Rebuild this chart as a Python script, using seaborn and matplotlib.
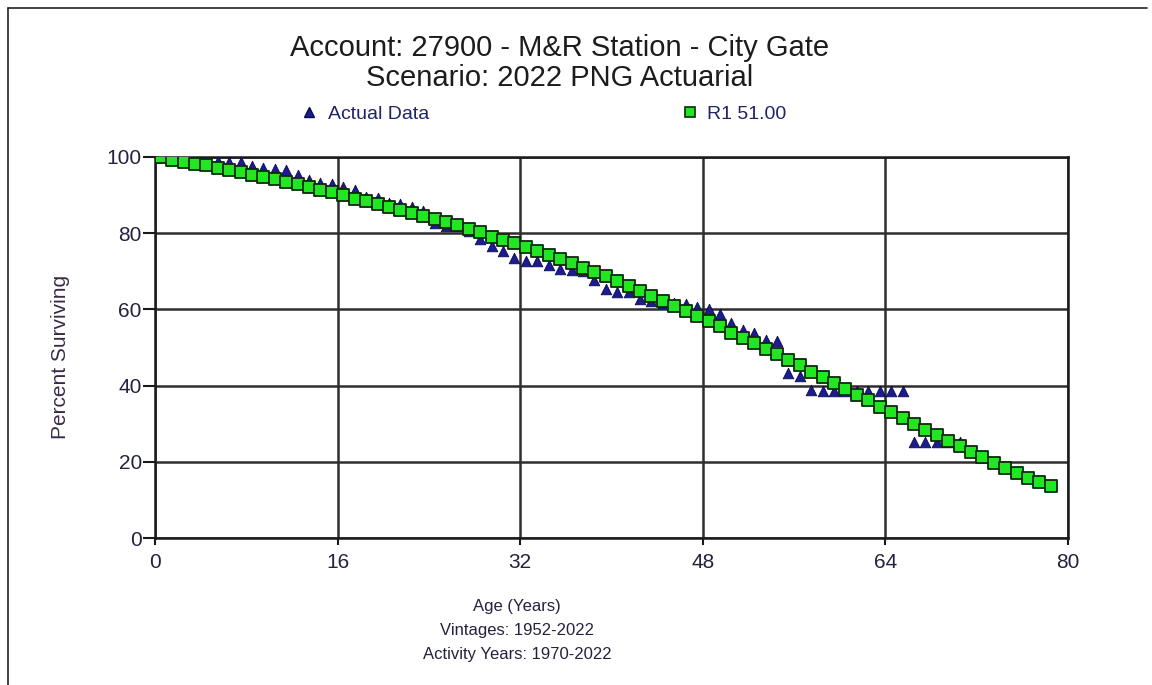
import matplotlib
matplotlib.use("Agg")
import matplotlib.pyplot as plt
import seaborn as sns
import pandas as pd
from matplotlib.lines import Line2D

# ---------------- data ----------------
ages_fit = [0, 0.5, 1.5, 2.5, 3.5, 4.5, 5.5, 6.5, 7.5, 8.5, 9.5, 10.5, 11.5, 12.5, 13.5,
            14.5, 15.5, 16.5, 17.5, 18.5, 19.5, 20.5, 21.5, 22.5, 23.5, 24.5, 25.5, 26.5,
            27.5, 28.5, 29.5, 30.5, 31.5, 32.5, 33.5, 34.5, 35.5, 36.5, 37.5, 38.5, 39.5,
            40.5, 41.5, 42.5, 43.5, 44.5, 45.5, 46.5, 47.5, 48.5, 49.5, 50.5, 51.5, 52.5,
            53.5, 54.5, 55.5, 56.5, 57.5, 58.5, 59.5, 60.5, 61.5, 62.5, 63.5, 64.5, 65.5,
            66.5, 67.5, 68.5, 69.5, 70.5, 71.5, 72.5, 73.5, 74.5, 75.5, 76.5, 77.5, 78.5]
r1_fit = [100.0, 100.0, 99.2, 98.8, 98.2, 97.9, 97.1, 96.6, 96.0, 95.4, 94.8, 94.1, 93.5,
          92.8, 92.1, 91.4, 90.7, 90.0, 89.1, 88.5, 87.7, 87.0, 86.1, 85.4, 84.5, 83.7,
          82.9, 82.1, 81.1, 80.2, 79.1, 78.2, 77.4, 76.3, 75.2, 74.3, 73.1, 72.2, 70.9,
          69.9, 68.7, 67.4, 66.1, 64.8, 63.5, 62.3, 60.9, 59.5, 58.2, 56.9, 55.6, 53.9,
          52.5, 51.1, 49.6, 48.4, 46.7, 45.3, 43.7, 42.2, 40.7, 39.2, 37.5, 36.1, 34.5,
          33.0, 31.4, 29.9, 28.4, 27.0, 25.5, 24.1, 22.6, 21.3, 19.8, 18.4, 17.0, 15.8,
          14.8, 13.6]

ages_actual = ages_fit[:72]
actual = [100.0, 100.0, 99.7, 99.6, 99.3, 99.1, 98.9, 98.8, 98.6, 97.6, 97.0, 96.8, 96.6,
          95.2, 94.0, 93.3, 93.0, 92.2, 91.4, 89.6, 89.2, 88.0, 87.6, 87.0, 85.8, 82.8,
          81.9, 82.0, 80.6, 78.4, 76.7, 75.2, 73.4, 72.8, 72.6, 71.6, 70.7, 70.3, 70.2,
          67.6, 65.4, 64.6, 64.6, 62.7, 62.3, 61.8, 61.8, 61.3, 60.5, 60.0, 58.9, 56.4,
          54.6, 53.7, 52.0, 51.6, 43.3, 42.6, 38.9, 38.7, 38.7, 38.7, 38.7, 38.7, 38.7,
          38.7, 38.7, 25.3, 25.3, 25.3, 25.3, 25.3]

x_ticks = [0, 16, 32, 48, 64, 80]
y_ticks = [0, 20, 40, 60, 80, 100]

title_lines = ["Account: 27900 - M&R Station - City Gate", "Scenario: 2022 PNG Actuarial"]
series_names = ["Actual Data", "R1 51.00"]
footer_lines = ["Age (Years)", "Vintages: 1952-2022", "Activity Years: 1970-2022"]
y_label = "Percent Surviving"

df_act = pd.DataFrame({"age": ages_actual, "pct": actual})
df_fit = pd.DataFrame({"age": ages_fit, "pct": r1_fit})

# ---------------- style ----------------
sns.set_style("white")
plt.rcParams["font.family"] = ["Liberation Sans", "DejaVu Sans"]

W, H = 1152, 685
fig = plt.figure(figsize=(W / 100, H / 100), dpi=100)
ax = fig.add_axes([155 / W, 1 - 538 / H, (1068 - 155) / W, (538 - 157) / H])

tri_col = "#1c1c8e"
sq_face = "#22e622"
sq_edge = "#0b2a0b"
txt_col = "#23233f"

sns.scatterplot(data=df_act, x="age", y="pct", marker="^", s=58, color=tri_col,
                edgecolor="#0a0a50", linewidth=0.6, ax=ax, zorder=3, legend=False)
sns.scatterplot(data=df_fit, x="age", y="pct", marker="s", s=68, color=sq_face,
                edgecolor=sq_edge, linewidth=1.3, ax=ax, zorder=4, legend=False)

ax.set_xlim(0, 80)
ax.set_ylim(0, 100)
ax.set_xticks(x_ticks)
ax.set_yticks(y_ticks)
ax.set_xlabel("")
ax.set_ylabel("")
ax.grid(True, color="#2e2e2e", linewidth=1.8)
ax.set_axisbelow(True)
for sp in ax.spines.values():
    sp.set_color("#1a1a1a")
    sp.set_linewidth(1.8)
ax.tick_params(axis="y", direction="out", length=8.5, width=1.5, color="#1a1a1a",
               labelsize=15, labelcolor=txt_col, pad=1)
ax.tick_params(axis="x", direction="out", length=5, width=1.5, color="#1a1a1a",
               labelsize=15, labelcolor=txt_col, pad=6)
ax.tick_params(left=True, bottom=True)

# title
fig.text(560 / W, 1 - 48 / H, title_lines[0], ha="center", va="center",
         fontsize=21, color="#1c1c1c")
fig.text(560 / W, 1 - 78 / H, title_lines[1], ha="center", va="center",
         fontsize=21, color="#1c1c1c")

# legend (two separate entries)
h1 = Line2D([], [], linestyle="none", marker="^", markersize=7, color=tri_col,
            markeredgecolor="#0a0a50")
h2 = Line2D([], [], linestyle="none", marker="s", markersize=6.5, color=sq_face,
            markeredgecolor=sq_edge, markeredgewidth=1.2)
leg1 = fig.legend(handles=[h1], labels=[series_names[0]], loc="center left",
                  bbox_to_anchor=(299 / W, 1 - 114 / H), frameon=False, fontsize=14,
                  handlelength=1.0, handletextpad=0.5, borderpad=0, borderaxespad=0,
                  labelcolor="#1f2466")
leg2 = fig.legend(handles=[h2], labels=[series_names[1]], loc="center left",
                  bbox_to_anchor=(680 / W, 1 - 114 / H), frameon=False, fontsize=14,
                  handlelength=1.0, handletextpad=0.4, borderpad=0, borderaxespad=0,
                  labelcolor="#1f2466")

# y label
fig.text(61 / W, 1 - 357 / H, y_label, rotation=90, ha="center", va="center",
         fontsize=15, color="#3a2a48")

# footer labels
for txt, yy in zip(footer_lines, [606, 630, 654]):
    fig.text(517 / W, 1 - yy / H, txt, ha="center", va="center", fontsize=12,
             color=txt_col)

# outer border (left and top edges)
fig.add_artist(Line2D([8 / W, 8 / W], [0, 1 - 8 / H], transform=fig.transFigure,
                      color="#222222", linewidth=1.2))
fig.add_artist(Line2D([8 / W, 1147 / W], [1 - 8 / H, 1 - 8 / H], transform=fig.transFigure,
                      color="#222222", linewidth=1.2))

fig.savefig("out.png", dpi=100)
